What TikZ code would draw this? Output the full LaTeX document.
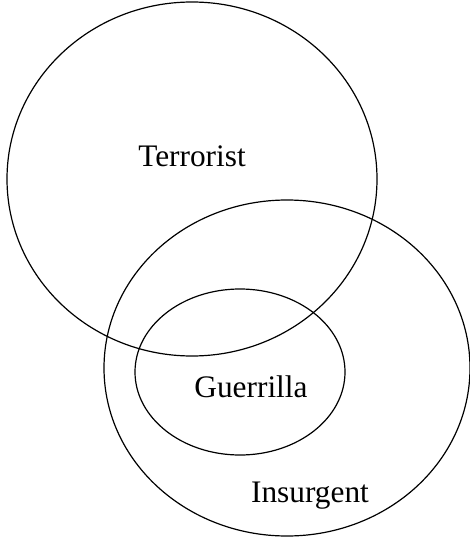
\documentclass[tikz,border=0pt]{standalone}
\usepackage{fontspec}
\setmainfont{Liberation Serif}
\usetikzlibrary{positioning}

\begin{document}
\begin{tikzpicture}[
    x=0.75pt, y=-0.75pt,
    setline/.style={draw=black, line width=0.9pt},
    setlabel/.style={font=\fontsize{23.5}{28}\selectfont, inner sep=0pt, anchor=base}
]
\useasboundingbox (0,0) rectangle (470,538);

% the three sets
\draw[setline] (192,179) ellipse [x radius=138.75pt, y radius=132.75pt];
\draw[setline] (287,368) ellipse [x radius=137.25pt, y radius=126pt];
\draw[setline] (240,372) ellipse [x radius=78.75pt, y radius=62.25pt];

% labels
\node[setlabel] (terrorist) at (192,167) {Terrorist};
\node[setlabel] (guerrilla) at (251,397) {Guerrilla};
\node[setlabel] (insurgent) at (310,502) {Insurgent};

\end{tikzpicture}
\end{document}
